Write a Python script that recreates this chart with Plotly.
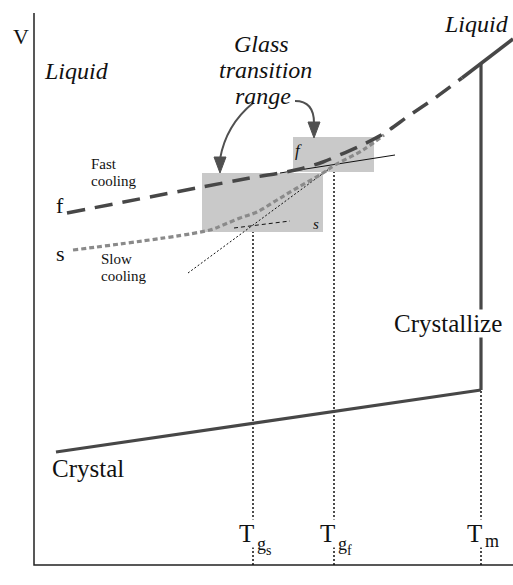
import numpy as np
import plotly.graph_objects as go

# Schematic volume-temperature diagram (arbitrary units: T along x, V along y)
T_FAST = [3.3, 21.6, 24.6, 26.6, 28.9, 30.1, 32.8, 34.9, 37.6, 40.1, 42.8]
V_FAST = [35.2, 38.7, 39.2, 39.6, 40.3, 40.8, 42.0, 43.1, 45.0, 46.7, 48.7]

T_SLOW = [3.9, 17.6, 18.9, 20.6, 22.3, 24.3, 26.3, 28.9, 30.1, 32.9, 35.0]
V_SLOW = [31.5, 33.5, 34.0, 34.7, 35.3, 36.5, 37.7, 39.2, 40.0, 41.5, 43.0]

T_LIQUID = [42.8, 47.9]
V_LIQUID = [48.7, 52.6]

T_CRYSTAL = [2.2, 44.7]
V_CRYSTAL = [11.3, 17.5]

# extrapolations used to define the glass transition temperatures
T_LIQ_EXT = [15.4, 29.5]
V_LIQ_EXT = [29.2, 39.6]
T_FAST_GLASS_EXT = [24.6, 36.1]
V_FAST_GLASS_EXT = [39.2, 41.0]
T_SLOW_GLASS_EXT = [20.0, 25.6]
V_SLOW_GLASS_EXT = [33.7, 34.4]

# characteristic temperatures with their subscripts
TG_S, TG_F, T_M = 21.9, 30.0, 44.7
TEMP_SUBS = [("g", "s"), ("g", "f"), ("m", "")]

# glass transition ranges (T0, T1, V0, V1)
BOX_S = [16.8, 28.9, 33.3, 39.2]
BOX_F = [25.9, 34.0, 39.3, 42.8]

T_MAX, V_MAX = 47.9, 55.2

SERIF = "Liberation Serif"
DARK = "#474747"
GREY = "#8a8a8a"

fig = go.Figure()


def line(x, y, color, width, dash="solid", shape="linear"):
    fig.add_trace(go.Scatter(x=x, y=y, mode="lines",
                             line=dict(color=color, width=width, dash=dash, shape=shape),
                             hoverinfo="skip"))


# shaded glass transition ranges
for t0, t1, v0, v1 in (BOX_S, BOX_F):
    fig.add_shape(type="rect", x0=t0, x1=t1, y0=v0, y1=v1, xref="x", yref="y",
                  fillcolor="#c9c9c9", line=dict(width=0), layer="below")

# axes
line([0, 0, T_MAX], [V_MAX, 0, 0], "#222222", 1.5)

# dotted guides down to the T axis
v_m = float(np.interp(T_M, T_CRYSTAL, V_CRYSTAL))
line([TG_S, TG_S], [0, BOX_S[2]], "#111111", 1.5, dash="2px,2px")
line([TG_F, TG_F], [0, BOX_F[2]], "#111111", 1.5, dash="2px,2px")
line([T_M, T_M], [0, v_m], "#111111", 1.5, dash="2px,2px")

# thin construction lines
line(T_LIQ_EXT, V_LIQ_EXT, "#111111", 1, dash="2px,2px")
line(T_SLOW_GLASS_EXT, V_SLOW_GLASS_EXT, "#111111", 1, dash="4px,3px")
line(T_FAST_GLASS_EXT, V_FAST_GLASS_EXT, "#111111", 1)

# crystal, melting jump and equilibrium liquid
v_liq_m = float(np.interp(T_M, T_LIQUID, V_LIQUID))
line(T_CRYSTAL, V_CRYSTAL, DARK, 3.2)
line([T_M, T_M], [v_m, v_liq_m], DARK, 3.2)
line(T_LIQUID, V_LIQUID, DARK, 3.5)

# slow and fast cooling paths
line(T_SLOW, V_SLOW, GREY, 3.2, dash="5px,3px", shape="spline")
line(T_FAST, V_FAST, DARK, 3.5, dash="18px,10px", shape="spline")

# curved arrows from the "Glass transition range" caption
ARROW = "#505050"
fig.add_shape(type="path", path="M 21.9,46.2 Q 19.2,44.0 18.6,40.6",
              line=dict(color=ARROW, width=2))
fig.add_shape(type="path", path="M 18.6,39.2 L 18.0,40.8 L 19.2,40.8 Z",
              fillcolor=ARROW, line=dict(color=ARROW, width=1))
fig.add_shape(type="path", path="M 26.1,46.4 Q 28.0,46.4 28.0,44.2",
              line=dict(color=ARROW, width=2))
fig.add_shape(type="path", path="M 28.0,42.7 L 27.4,44.3 L 28.6,44.3 Z",
              fillcolor=ARROW, line=dict(color=ARROW, width=1))


def text(x, y, s, size, italic=False, xanchor="center", yanchor="middle",
         bg=None, xshift=0, height=None):
    fig.add_annotation(x=x, y=y, text=s, showarrow=False, xref="x", yref="y",
                       xanchor=xanchor, yanchor=yanchor, xshift=xshift,
                       font=dict(family=SERIF, size=size, color="#111111",
                                 style="italic" if italic else "normal"),
                       bgcolor=bg, borderpad=0, height=height)


text(-1.3, 52.9, "V", 22)
text(46.4, -2.3, "T", 22)
text(4.2, 49.4, "Liquid", 24, italic=True)
text(44.2, 54.1, "Liquid", 24, italic=True)
text(22.7, 52.1, "Glass", 24, italic=True, height=26)
text(23.1, 49.5, "transition", 24, italic=True, height=26)
text(22.9, 46.9, "range", 24, italic=True, height=26)

text(5.6, 40.1, "Fast", 15, xanchor="left")
text(5.6, 38.4, "cooling", 15, xanchor="left")
text(6.6, 30.6, "Slow", 15, xanchor="left")
text(6.6, 28.9, "cooling", 15, xanchor="left")
text(2.6, 36.0, "f", 22)
text(2.6, 31.2, "s", 22)
text(26.4, 41.5, "f", 17, italic=True)
text(28.2, 34.1, "s", 15, italic=True)

text(41.4, 24.2, "Crystallize", 25, bg="white")
text(5.4, 9.7, "Crystal", 25)

# temperature labels on the guides: T, first subscript, second subscript
for tx, (sub1, sub2) in zip((TG_S, TG_F, T_M), TEMP_SUBS):
    text(tx, 3.2, "T", 25, xanchor="right", bg="white", xshift=2)
    y1 = 2.4 if sub1 == "m" else 2.1
    text(tx, y1, sub1, 18, xanchor="left", bg="white", xshift=3)
    if sub2:
        text(tx, 1.45, sub2, 14, xanchor="left", xshift=12)

fig.update_layout(
    width=513, height=585, margin=dict(l=0, r=0, t=0, b=0),
    paper_bgcolor="white", plot_bgcolor="white", showlegend=False,
    xaxis=dict(range=[-3.4, 47.9], visible=False, fixedrange=True),
    yaxis=dict(range=[-2.0, 56.5], visible=False, fixedrange=True),
)

fig.write_html("out.html")
